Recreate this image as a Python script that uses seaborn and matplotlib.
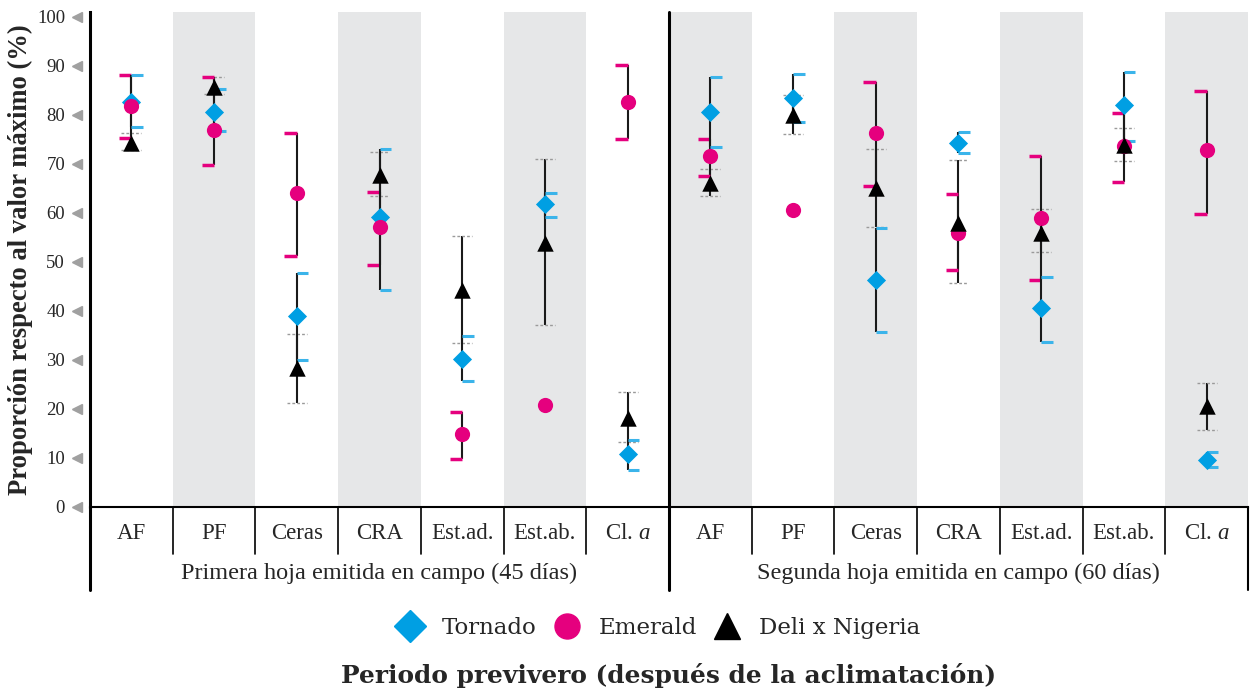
import numpy as np
import pandas as pd
import seaborn as sns
import matplotlib.pyplot as plt
from matplotlib.lines import Line2D

# categories (7 variables x 2 leaves)
variables = ['AF', 'PF', 'Ceras', 'CRA', 'Est.ad.', 'Est.ab.', 'Cl. $a$']
groups = ['Primera hoja emitida en campo (45 días)', 'Segunda hoja emitida en campo (60 días)']
varieties = ['Tornado', 'Emerald', 'Deli x Nigeria']
yticks = [0, 10, 20, 30, 40, 50, 60, 70, 80, 90, 100]

# values (first 7 = first leaf, last 7 = second leaf)
tornado_mean = [82.7, 80.5, 39.0, 59.1, 30.2, 61.8, 10.8, 80.6, 83.4, 46.2, 74.2, 40.6, 82.0, 9.6]
tornado_lo = [77.6, 76.6, 30.0, 44.3, 25.6, 59.2, 7.6, 73.5, 78.5, 35.6, 72.1, 33.7, 74.7, 8.1]
tornado_hi = [88.2, 85.2, 47.8, 73.1, 34.8, 64.1, 13.6, 87.6, 88.3, 56.8, 76.4, 46.9, 88.8, 11.3]

emerald_mean = [81.8, 76.9, 64.1, 57.1, 14.8, 20.7, 82.7, 71.5, 60.6, 76.3, 55.9, 58.9, 73.7, 72.8]
emerald_lo = [75.3, 69.7, 51.2, 49.4, 9.7, np.nan, 75.0, 67.6, np.nan, 65.4, 48.3, 46.3, 66.3, 59.7]
emerald_hi = [88.2, 87.7, 76.2, 64.3, 19.3, np.nan, 90.1, 75.1, np.nan, 86.6, 63.8, 71.6, 80.3, 84.8]

deli_mean = [74.3, 85.7, 28.4, 67.8, 44.3, 53.9, 18.2, 66.0, 80.0, 65.0, 57.9, 55.9, 73.9, 20.6]
deli_lo = [72.9, 84.2, 21.2, 63.5, 33.4, 37.1, 13.2, 63.5, 76.1, 57.2, 45.7, 52.0, 70.6, 15.6]
deli_hi = [76.3, 87.7, 35.3, 72.4, 55.3, 71.0, 23.4, 69.0, 84.1, 73.1, 70.7, 60.8, 77.3, 25.2]

blue = '#009fe3'
blue_cap = '#3bb4ea'
pink = '#e5007e'
band = '#e6e7e8'

sns.set_style('white')
plt.rcParams['font.family'] = ['Liberation Serif', 'DejaVu Serif']
plt.rcParams['mathtext.fontset'] = 'custom'
plt.rcParams['mathtext.rm'] = 'Liberation Serif'
plt.rcParams['mathtext.it'] = 'Liberation Serif:italic'

pos = np.arange(14)
df = pd.concat([
    pd.DataFrame({'pos': pos, 'value': tornado_mean, 'lo': tornado_lo, 'hi': tornado_hi, 'variety': 'Tornado'}),
    pd.DataFrame({'pos': pos, 'value': emerald_mean, 'lo': emerald_lo, 'hi': emerald_hi, 'variety': 'Emerald'}),
    pd.DataFrame({'pos': pos, 'value': deli_mean, 'lo': deli_lo, 'hi': deli_hi, 'variety': 'Deli x Nigeria'}),
])

fig, ax = plt.subplots(figsize=(12.54, 6.94), dpi=100)
fig.subplots_adjust(left=0.0718, right=0.9952, top=0.983, bottom=0.2695)

# shaded columns
for i in pos[1::2]:
    ax.axvspan(i - 0.5, i + 0.5, color=band, lw=0, zorder=0)

# error bars: black stem, caps styled per variety
cap_style = {
    'Tornado': dict(dx=(0, 0.14), color=blue_cap, lw=2.2, ls='-'),
    'Emerald': dict(dx=(-0.15, 0), color=pink, lw=2.5, ls='-'),
    'Deli x Nigeria': dict(dx=(-0.12, 0.12), color='#9a9a9a', lw=1.0, ls=(0, (2, 1.5))),
}
for name, g in df.groupby('variety'):
    g = g.dropna()
    ax.vlines(g['pos'], g['lo'], g['hi'], color='#1a1a1a', lw=1.5, zorder=2)
    st = cap_style[name]
    for y in (g['lo'], g['hi']):
        ax.hlines(y, g['pos'] + st['dx'][0], g['pos'] + st['dx'][1], color=st['color'],
                  lw=st['lw'], linestyles=[st['ls']], zorder=2)

markers = {'Tornado': ('D', blue, 95), 'Emerald': ('o', pink, 120), 'Deli x Nigeria': ('^', 'black', 140)}
for name in varieties:
    m, c, s = markers[name]
    sns.scatterplot(data=df[df['variety'] == name], x='pos', y='value', marker=m, color=c,
                    s=s, linewidth=0, ax=ax, zorder=3, legend=False)

ax.set_xlim(-0.5, 13.5)
ax.set_ylim(0, 101)
ax.set_xticks([])
ax.set_yticks(yticks)
ax.set_yticklabels([str(t) for t in yticks], fontsize=13.5)
ax.tick_params(axis='y', length=0, pad=18)
ax.set_xlabel('')
ax.set_ylabel('Proporción respecto al valor máximo (%)', fontsize=19.2, fontweight='bold', labelpad=3)

for s in ['top', 'right']:
    ax.spines[s].set_visible(False)
ax.spines['left'].set_linewidth(2.2)
ax.spines['left'].set_color('black')
ax.spines['bottom'].set_linewidth(1.5)
ax.spines['bottom'].set_color('black')

# grey triangle tick marks
tr = ax.get_yaxis_transform()
ax.plot([-0.0115] * len(yticks), yticks, ls='none', marker='<', ms=7, color='#a0a0a0',
        transform=tr, clip_on=False)

# table under the axis
xt = ax.get_xaxis_transform()
for i in range(14):
    ax.text(i, -0.053, variables[i % 7], transform=xt, ha='center', va='center', fontsize=16.5)
    if i % 7 != 6:
        ax.plot([i + 0.5, i + 0.5], [0, -0.095], color='black', lw=1.2, transform=xt, clip_on=False)
for k, gname in enumerate(groups):
    ax.text(3 + 7 * k, -0.134, gname, transform=xt, ha='center', va='center', fontsize=17.5)
ax.plot([-0.5, -0.5], [0, -0.168], color='black', lw=2.2, transform=xt, clip_on=False)
ax.plot([6.5, 6.5], [1, -0.168], color='black', lw=2.2, transform=xt, clip_on=False)
ax.plot([13.5, 13.5], [0, -0.168], color='black', lw=1.5, transform=xt, clip_on=False)

# legend
handles = [Line2D([], [], ls='none', marker=markers[n][0], color=markers[n][1],
                  markersize={'Tornado': 16, 'Emerald': 18, 'Deli x Nigeria': 19}[n]) for n in varieties]
fig.legend(handles, varieties, loc='center', bbox_to_anchor=(0.523, 0.095), ncol=3, frameon=False,
           prop={'family': 'DejaVu Serif', 'size': 16.5}, handletextpad=0.6, columnspacing=0.5,
           handlelength=1.6)

fig.text(0.533, 0.027, 'Periodo previvero (después de la aclimatación)', ha='center', va='center',
         fontsize=17.9, fontweight='bold', family='DejaVu Serif')

fig.savefig('out.png', dpi=100)
